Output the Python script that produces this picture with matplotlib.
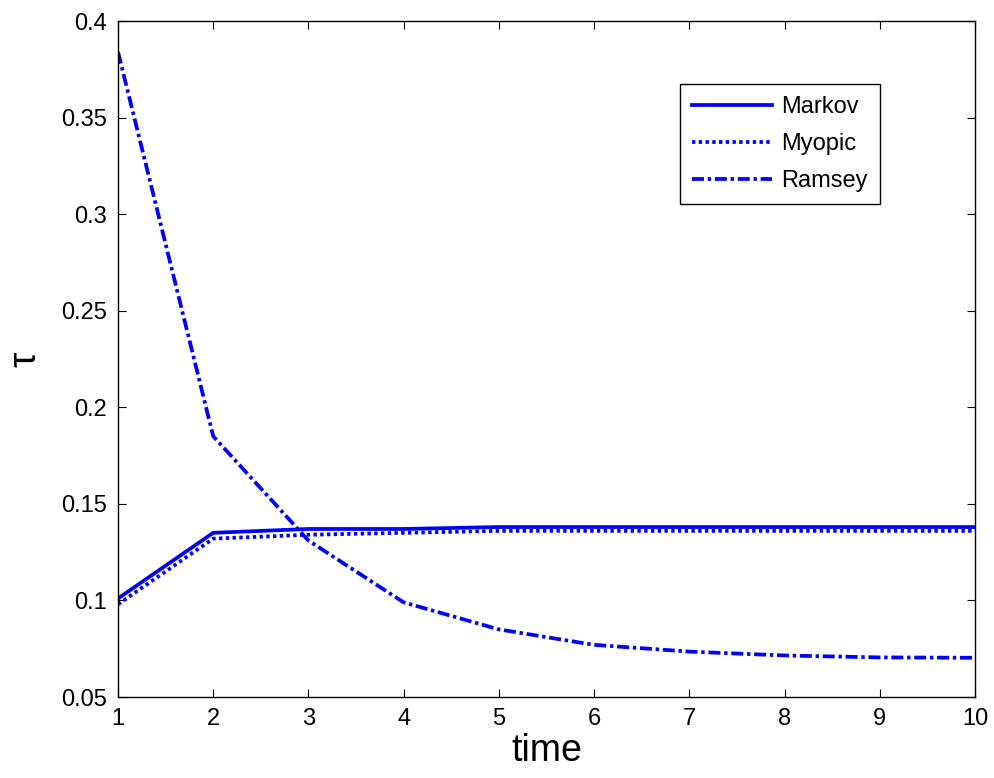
import matplotlib
matplotlib.use('Agg')
import matplotlib.pyplot as plt

plt.rcParams.update({
    'font.family': ['Liberation Sans', 'DejaVu Sans'],
    'font.size': 17,
    'xtick.direction': 'in',
    'ytick.direction': 'in',
    'xtick.top': True,
    'ytick.right': True,
    'axes.linewidth': 1.0,
})

# data
time = [1, 2, 3, 4, 5, 6, 7, 8, 9, 10]
markov = [0.101, 0.135, 0.137, 0.137, 0.138, 0.138, 0.138, 0.138, 0.138, 0.138]
myopic = [0.098, 0.132, 0.134, 0.135, 0.136, 0.136, 0.136, 0.136, 0.136, 0.136]
ramsey = [0.384, 0.185, 0.131, 0.099, 0.085, 0.077, 0.0735, 0.0715, 0.0705, 0.0703]

fig = plt.figure(figsize=(9.94, 7.78), dpi=100)
ax = fig.add_axes([118/994, 1 - 697/778, (975 - 118)/994, (697 - 21)/778])

lw = 2.7
ax.plot(time, markov, color='#0000ff', linestyle='-', linewidth=lw, label='Markov')
ax.plot(time, myopic, color='#0000ff', linestyle=(0, (0.9, 0.9)), linewidth=lw, label='Myopic')
ax.plot(time, ramsey, color='#0000ff', linestyle=(0, (3.2, 1.0, 0.9, 1.0)), linewidth=lw, label='Ramsey')

ax.set_xlim(1, 10)
ax.set_ylim(0.05, 0.4)
ax.set_xticks(range(1, 11))
ax.set_yticks([0.05, 0.1, 0.15, 0.2, 0.25, 0.3, 0.35, 0.4])
ax.set_yticklabels(['0.05', '0.1', '0.15', '0.2', '0.25', '0.3', '0.35', '0.4'])
ax.tick_params(labelsize=17, length=6, width=0.8, pad=8)

ax.set_xlabel('time', fontsize=27, labelpad=2)
ax.set_ylabel('\u03c4', fontsize=28, labelpad=13)

leg = ax.legend(loc='upper left', bbox_to_anchor=(680/994, 1 - 84/778),
                bbox_transform=fig.transFigure, fancybox=False, framealpha=1,
                edgecolor='black', fontsize=17, handlelength=3.4, handletextpad=0.4,
                borderaxespad=0, borderpad=0.5, labelspacing=0.65)
leg.get_frame().set_linewidth(1.0)

fig.savefig('out.png', dpi=100)
